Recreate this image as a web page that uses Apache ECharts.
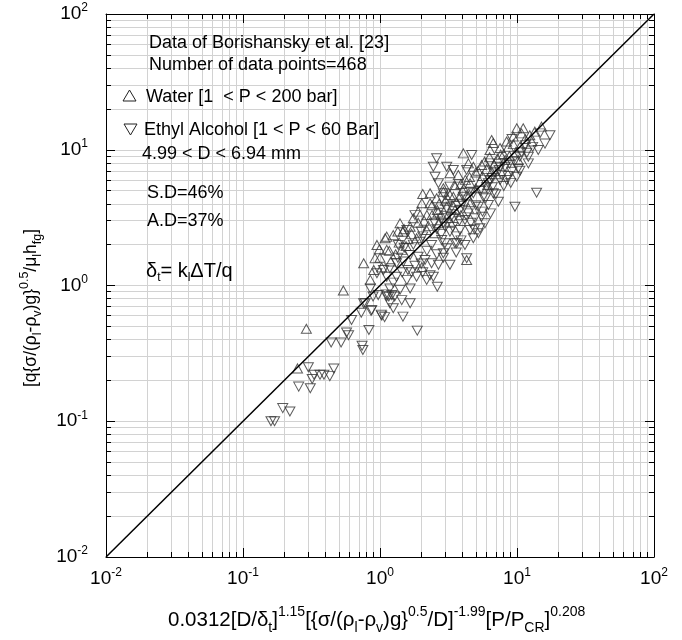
<!DOCTYPE html>
<html>
<head>
<meta charset="utf-8">
<script src="https://cdn.jsdelivr.net/npm/echarts@6/dist/echarts.min.js"></script>
<style>
  html, body { margin: 0; padding: 0; background: #fff; }
  #chart { width: 682px; height: 640px; }
</style>
</head>
<body>
<div id="chart"></div>
<script>
var waterPoints = [
  [0.29, 0.48], [0.25, 0.245], [0.54, 0.92],
  [0.76, 1.46], [0.92, 1.59], [0.99, 1.85], [1.17, 1.80], [1.12, 2.29], [1.40, 2.87],
  [1.47, 2.49], [1.38, 2.07], [1.66, 2.71], [1.75, 3.13], [2.02, 4.03], [2.32, 4.03],
  [2.05, 4.72], [2.59, 4.39], [3.24, 4.64], [3.84, 4.51], [2.62, 3.60], [3.07, 3.80],
  [3.53, 3.60], [2.67, 2.87], [3.24, 2.95], [2.19, 2.56], [2.52, 2.43], [1.85, 2.23],
  [4.29, 1.54], [0.85, 1.10], [1.03, 1.36], [2.02, 1.37],
  [6.71, 11.2], [7.52, 10.3], [6.35, 9.96], [8.65, 10.5], [9.40, 12.5], [10.8, 13.2],
  [12.4, 12.8], [10.5, 10.5], [3.24, 6.71], [3.73, 6.52], [4.80, 7.50], [5.52, 7.72],
  [5.37, 5.82], [4.54, 5.66], [3.43, 4.51], [4.42, 3.70],
  [4.06, 9.4], [4.42, 7.94], [6.53, 11.8], [9.96, 14.4], [11.1, 14.4], [15.1, 14.8],
  [10.2, 8.40], [6.53, 6.89], [2.32, 4.78],
  [1.12, 1.83], [0.95, 1.99], [1.09, 2.23], [1.25, 2.35], [1.44, 1.83],
  [2.2, 3.3], [2.8, 3.3], [3.0, 4.2], [3.6, 4.1], [4.0, 5.0], [4.3, 4.6], [5.0, 5.2],
  [5.6, 6.4], [6.0, 7.2], [6.8, 7.8], [7.2, 8.6], [8.0, 9.3], [8.8, 9.0], [9.4, 11.0],
  [11.5, 12.0], [5.0, 6.8], [4.2, 6.0], [3.5, 5.5], [2.9, 5.2], [2.4, 3.9], [1.9, 2.9],
  [1.6, 2.2], [1.3, 1.7], [1.55, 1.95], [2.25, 2.75], [2.65, 3.45], [3.9, 3.3], [4.6, 4.1],
  [6.1, 5.5], [7.0, 6.6], [8.2, 8.4], [9.8, 9.6], [12.8, 11.5], [13.5, 13.6],
  [1.5, 2.6], [1.7, 2.4], [2.1, 3.0], [2.4, 3.3], [2.7, 4.0], [3.1, 4.4], [3.4, 3.9],
  [3.9, 5.6], [4.5, 6.3], [5.2, 7.0], [5.8, 8.2], [6.3, 8.8], [7.6, 9.2], [8.4, 11.5],
  [1.2, 1.5], [1.0, 1.6], [0.9, 1.3], [1.35, 2.5], [1.9, 3.5], [2.9, 4.9]
];

var alcoholPoints = [
  [0.30, 0.25], [0.46, 0.245], [0.33, 0.22], [0.365, 0.22], [0.39, 0.22], [0.43, 0.215],
  [0.32, 0.205], [0.255, 0.18], [0.31, 0.175], [0.195, 0.125], [0.22, 0.118], [0.16, 0.10],
  [0.17, 0.10], [0.44, 0.38], [0.52, 0.38], [0.57, 0.45], [0.59, 0.43], [0.74, 0.36],
  [0.75, 0.335], [0.83, 0.47], [0.62, 0.557], [0.73, 0.63], [0.86, 0.65], [1.02, 0.61],
  [1.08, 0.585], [0.78, 0.74], [0.89, 0.83], [1.16, 0.83], [1.18, 0.74], [1.11, 0.86],
  [1.28, 0.83],
  [1.96, 2.10], [2.38, 1.99], [2.82, 2.16], [3.07, 1.88], [3.63, 2.05], [3.24, 1.42],
  [2.67, 1.42], [2.38, 1.46], [2.13, 1.54], [1.90, 1.63], [1.66, 1.68], [1.48, 1.50],
  [1.32, 1.46], [1.18, 1.34], [1.06, 1.30], [0.95, 1.23], [1.12, 1.16], [1.32, 1.16],
  [1.57, 1.10], [1.85, 1.16], [2.19, 1.10], [2.62, 0.98], [1.66, 0.95], [1.40, 0.93],
  [1.22, 0.85], [1.44, 0.78], [1.66, 0.74], [0.76, 0.74], [0.87, 0.66],
  [1.03, 0.60], [1.47, 0.59], [2.32, 1.19], [1.87, 0.465],
  [4.67, 9.15], [14.7, 13.2], [17.4, 12.8], [14.3, 9.96], [12.1, 8.89], [12.1, 7.94],
  [10.5, 8.89], [13.9, 4.83], [9.66, 3.80], [3.07, 7.50], [3.43, 7.10], [4.29, 7.10],
  [6.35, 7.94], [6.91, 6.89], [8.17, 7.50], [9.15, 6.89], [9.96, 6.33], [7.52, 5.98],
  [6.35, 5.98], [3.84, 5.35], [3.24, 5.35], [2.90, 4.78], [4.06, 4.51], [4.80, 4.78],
  [5.68, 4.51], [6.71, 4.78], [7.31, 4.14], [6.18, 3.92], [5.22, 3.80], [3.84, 3.60],
  [3.07, 3.70], [2.82, 3.13], [3.43, 3.13], [4.17, 3.04], [4.93, 3.13], [5.52, 3.21],
  [5.37, 2.64], [4.54, 2.56], [3.84, 2.56], [3.24, 2.49], [4.80, 2.23], [4.17, 1.99],
  [3.53, 2.05], [2.98, 2.05], [2.90, 1.73], [4.29, 1.59],
  [2.59, 8.65], [2.52, 6.33], [9.2, 12.0], [16.0, 11.1], [10.2, 7.28], [7.52, 7.50],
  [8.41, 5.98], [6.18, 5.66], [5.83, 2.87], [5.22, 2.43], [2.45, 1.16], [1.80, 3.30],
  [1.57, 2.56], [2.67, 5.66], [2.45, 7.50],
  [0.85, 0.95], [0.97, 0.85], [1.12, 0.83], [1.18, 0.95], [1.25, 0.68], [1.36, 1.99],
  [2.0, 2.5], [2.5, 2.9], [3.0, 2.7], [3.3, 3.2], [3.8, 3.0], [4.4, 3.4], [5.0, 3.9],
  [5.9, 4.4], [6.6, 5.3], [7.8, 6.5], [8.8, 7.9], [10.8, 9.6], [11.5, 10.8], [13.0, 10.5],
  [3.6, 2.3], [2.8, 2.4], [2.2, 1.8], [1.8, 1.4], [1.45, 1.25], [1.25, 1.05], [2.9, 1.6],
  [3.6, 1.75], [4.6, 2.9], [5.6, 3.5], [6.4, 3.4], [7.0, 4.7], [8.0, 5.4], [9.0, 5.7],
  [10.5, 7.0], [11.8, 9.5], [1.6, 1.3], [2.05, 1.25],
  [1.5, 1.9], [1.75, 2.0], [2.05, 2.3], [2.6, 2.6], [2.9, 2.9], [3.4, 2.7], [4.0, 4.0],
  [4.6, 4.9], [5.4, 5.0], [6.0, 5.3], [6.6, 6.2], [7.4, 7.1], [8.6, 6.4], [9.6, 8.2],
  [2.6, 1.7], [2.0, 1.45], [3.9, 2.15], [4.9, 2.6], [1.35, 1.6], [1.7, 1.25]
];

// y = x reference line
var parityLine = [[0.01, 0.01], [100, 100]];
var axisRange = [0.01, 100];

var FONT = '"Liberation Sans", Arial, Helvetica, sans-serif';
var chart = echarts.init(document.getElementById('chart'));

function powLabel(v) {
  var e = Math.round(Math.log10(v));
  return '{b|10}{s|' + e + '}';
}

var labelRich = {
  b: { fontSize: 19, fontFamily: FONT, color: '#000', lineHeight: 24, verticalAlign: 'middle' },
  s: { fontSize: 12, fontFamily: FONT, color: '#000', verticalAlign: 'top' }
};

function logAxis(position, showLabel, extra) {
  var ax = {
    type: 'log',
    logBase: 10,
    min: axisRange[0],
    max: axisRange[1],
    position: position,
    axisLine: { show: true, onZero: false, lineStyle: { color: '#000', width: 1 } },
    axisTick: { show: true, inside: true, length: 9, lineStyle: { color: '#000' } },
    minorTick: { show: true, splitNumber: 9, length: 5, lineStyle: { color: '#000' } },
    splitLine: { show: showLabel, lineStyle: { color: '#d2d2d2', width: 1 } },
    minorSplitLine: { show: showLabel, lineStyle: { color: '#d2d2d2', width: 1 } },
    axisLabel: {
      show: showLabel,
      formatter: powLabel,
      rich: labelRich
    }
  };
  for (var k in extra) ax[k] = extra[k];
  return ax;
}

function scriptStyles(mainSize, smallSize, lh) {
  return {
    m: { fontSize: mainSize, fontFamily: FONT, color: '#000', verticalAlign: 'middle', lineHeight: lh },
    sub: { fontSize: smallSize, fontFamily: FONT, color: '#000', verticalAlign: 'bottom' },
    sup: { fontSize: smallSize, fontFamily: FONT, color: '#000', verticalAlign: 'top' }
  };
}

var xTitle = '{m|0.0312[D/δ}{sub|t}{m|]}{sup|1.15}{m|[{σ/(ρ}{sub|l}{m|-ρ}{sub|v}{m|)g}}{sup|0.5}{m|/D]}{sup|-1.99}{m|[P/P}{sub|CR}{m|]}{sup|0.208}';
var yTitle = '{m|[q{σ/(ρ}{sub|l}{m|-ρ}{sub|v}{m|)g}}{sup|0.5}{m|/μ}{sub|l}{m|h}{sub|fg}{m|]}';

function note(x, y, txt, size) {
  return {
    type: 'text', left: x, top: y,
    style: { text: txt, fontSize: size || 18, fontFamily: FONT, fill: '#000' },
    z: 10
  };
}

var option = {
  animation: false,
  backgroundColor: '#fff',
  grid: { left: 106, right: 28, top: 14, bottom: 83 },
  xAxis: [
    logAxis('bottom', true, { axisLabel: { show: true, formatter: powLabel, rich: labelRich, margin: 10 } }),
    logAxis('top', false, {})
  ],
  yAxis: [
    logAxis('left', true, { axisLabel: { show: true, formatter: powLabel, rich: labelRich, margin: 18 } }),
    logAxis('right', false, {})
  ],
  graphic: [
    note(149, 34, 'Data of Borishansky et al. [23]'),
    note(149, 56, 'Number of data points=468'),
    { type: 'polygon', shape: { points: [[123, 101], [136, 101], [129.5, 90]] },
      style: { fill: 'none', stroke: '#222', lineWidth: 1 } },
    note(146, 88, 'Water [1  < P < 200 bar]'),
    { type: 'polygon', shape: { points: [[124, 124], [137, 124], [130.5, 135]] },
      style: { fill: 'none', stroke: '#222', lineWidth: 1 } },
    note(144, 121, 'Ethyl Alcohol [1 < P < 60 Bar]'),
    note(142, 145, '4.99 < D < 6.94 mm'),
    note(147, 184, 'S.D=46%'),
    note(147, 212, 'A.D=37%'),
    {
      type: 'text', left: 146, top: 261, z: 10,
      style: { text: '{m|δ}{sub|t}{m|= k}{sub|l}{m|ΔT/q}', rich: scriptStyles(20, 12, 26) }
    },
    {
      type: 'text', left: 168, top: 605,
      style: {
        text: xTitle, fontSize: 20, fontFamily: FONT, fill: '#000',
        rich: scriptStyles(20.5, 14, 30)
      }
    },
    {
      type: 'text', x: 31, y: 308, rotation: Math.PI / 2,
      style: {
        text: yTitle, fontSize: 17.5, fontFamily: FONT, fill: '#000',
        align: 'center', verticalAlign: 'middle',
        rich: scriptStyles(17.5, 12.5, 26)
      }
    }
  ],
  series: [
    {
      name: 'Water',
      type: 'scatter',
      data: waterPoints,
      symbol: 'triangle',
      symbolSize: [10, 9],
      itemStyle: { color: 'rgba(0,0,0,0)', borderColor: '#333', borderWidth: 1 }
    },
    {
      name: 'Ethyl Alcohol',
      type: 'scatter',
      data: alcoholPoints,
      symbol: 'triangle',
      symbolRotate: 180,
      symbolSize: [10, 9],
      itemStyle: { color: 'rgba(0,0,0,0)', borderColor: '#333', borderWidth: 1 }
    },
    {
      type: 'line',
      data: parityLine,
      showSymbol: false,
      silent: true,
      lineStyle: { color: '#000', width: 1.5 },
      z: 5
    }
  ]
};

chart.setOption(option);
</script>
</body>
</html>
